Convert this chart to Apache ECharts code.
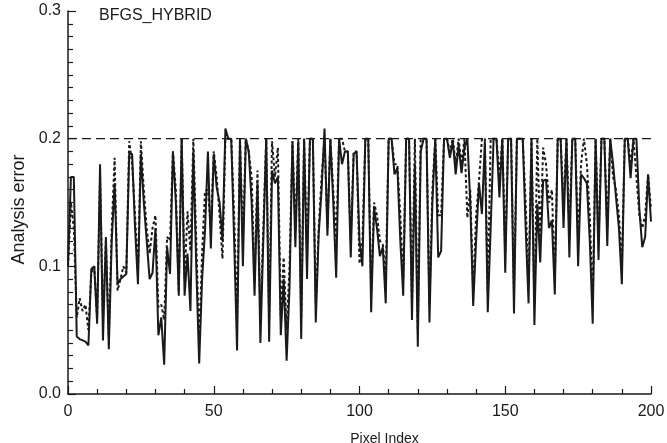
<!DOCTYPE html>
<html>
<head>
<meta charset="utf-8">
<script src="https://cdn.jsdelivr.net/npm/echarts@6/dist/echarts.min.js"></script>
<style>
  html, body { margin: 0; padding: 0; background: #fff; }
  #chart { width: 667px; height: 443px; }
</style>
</head>
<body>
<div id="chart"></div>
<script>
// analysis error per pixel, solid curve
const solidErr = [
  0.10, 0.17, 0.17, 0.045, 0.043, 0.042, 0.041, 0.038, 0.098, 0.10,
  0.055, 0.18, 0.042, 0.123, 0.035, 0.12, 0.165, 0.086, 0.09, 0.092,
  0.094, 0.188, 0.188, 0.13, 0.086, 0.188, 0.15, 0.12, 0.09, 0.095,
  0.13, 0.046, 0.06, 0.023, 0.115, 0.094, 0.19, 0.15, 0.077, 0.2,
  0.077, 0.11, 0.065, 0.19, 0.1, 0.024, 0.09, 0.128, 0.19, 0.114,
  0.188, 0.162, 0.15, 0.12, 0.208, 0.2, 0.2, 0.12, 0.034, 0.2,
  0.1, 0.2, 0.19, 0.15, 0.077, 0.165, 0.04, 0.12, 0.2, 0.041,
  0.175, 0.165, 0.17, 0.046, 0.09, 0.026, 0.084, 0.198, 0.115, 0.198,
  0.043, 0.2, 0.09, 0.2, 0.2, 0.056, 0.125, 0.16, 0.208, 0.124,
  0.2, 0.15, 0.091, 0.2, 0.18, 0.19, 0.19, 0.107, 0.188, 0.19,
  0.12, 0.1, 0.2, 0.2, 0.064, 0.146, 0.13, 0.108, 0.115, 0.071,
  0.2, 0.2, 0.172, 0.177, 0.12, 0.077, 0.2, 0.2, 0.058, 0.18,
  0.037, 0.19, 0.2, 0.2, 0.056, 0.15, 0.2, 0.107, 0.112, 0.2,
  0.2, 0.185, 0.198, 0.172, 0.195, 0.173, 0.193, 0.2, 0.15, 0.069,
  0.12, 0.165, 0.141, 0.198, 0.064, 0.13, 0.2, 0.2, 0.154, 0.2,
  0.095, 0.2, 0.2, 0.063, 0.2, 0.2, 0.2, 0.13, 0.071, 0.2,
  0.054, 0.149, 0.103, 0.167, 0.168, 0.13, 0.136, 0.078, 0.2, 0.2,
  0.13, 0.2, 0.107, 0.2, 0.2, 0.1, 0.172, 0.169, 0.165, 0.12,
  0.055, 0.2, 0.105, 0.2, 0.2, 0.116, 0.2, 0.18, 0.154, 0.13,
  0.086, 0.2, 0.2, 0.169, 0.2, 0.2, 0.145, 0.115, 0.123, 0.172,
  0.135
]

// dotted curve
const dottedErr = [
  0.10, 0.15, 0.13, 0.06, 0.075, 0.065, 0.07, 0.05, 0.095, 0.1,
  0.06, 0.17, 0.06, 0.12, 0.045, 0.13, 0.185, 0.081, 0.09, 0.1,
  0.095, 0.198, 0.18, 0.14, 0.095, 0.198, 0.16, 0.13, 0.11, 0.13,
  0.14, 0.068, 0.07, 0.058, 0.123, 0.12, 0.19, 0.16, 0.08, 0.2,
  0.09, 0.143, 0.112, 0.2, 0.12, 0.04, 0.11, 0.159, 0.16, 0.13,
  0.19, 0.17, 0.14, 0.106, 0.2, 0.2, 0.2, 0.14, 0.058, 0.2,
  0.12, 0.2, 0.19, 0.17, 0.09, 0.175, 0.06, 0.13, 0.2, 0.06,
  0.198, 0.17, 0.193, 0.06, 0.107, 0.05, 0.1, 0.198, 0.13, 0.2,
  0.06, 0.2, 0.11, 0.2, 0.2, 0.07, 0.13, 0.17, 0.2, 0.13,
  0.2, 0.16, 0.12, 0.2, 0.2, 0.19, 0.19, 0.12, 0.19, 0.19,
  0.102, 0.12, 0.2, 0.2, 0.08, 0.15, 0.14, 0.12, 0.117, 0.09,
  0.2, 0.2, 0.18, 0.18, 0.14, 0.09, 0.2, 0.2, 0.07, 0.2,
  0.05, 0.2, 0.2, 0.2, 0.07, 0.16, 0.2, 0.14, 0.14, 0.2,
  0.2, 0.19, 0.2, 0.18, 0.2, 0.18, 0.2, 0.138, 0.16, 0.08,
  0.14, 0.167, 0.2, 0.2, 0.08, 0.2, 0.2, 0.2, 0.17, 0.2,
  0.11, 0.2, 0.2, 0.08, 0.2, 0.2, 0.2, 0.15, 0.085, 0.2,
  0.07, 0.2, 0.12, 0.193, 0.18, 0.15, 0.16, 0.09, 0.2, 0.2,
  0.15, 0.2, 0.13, 0.2, 0.2, 0.12, 0.18, 0.2, 0.18, 0.14,
  0.07, 0.2, 0.12, 0.2, 0.2, 0.13, 0.2, 0.17, 0.16, 0.14,
  0.1, 0.2, 0.2, 0.18, 0.2, 0.17, 0.14, 0.13, 0.14, 0.172,
  0.145
]

// dashed reference level
const limitLevel = [[0, 0.2], [200, 0.2]]

const xTicks = [0, 50, 100, 150, 200]
const yTicks = [0, 0.1, 0.2, 0.3]

const ink = '#1a1a1a'
const font = 'Liberation Sans, Arial, sans-serif'

const toPairs = (vals) => vals.map((v, i) => [i, v])

const chart = echarts.init(document.getElementById('chart'), null, { renderer: 'canvas' })

chart.setOption({
  animation: false,
  backgroundColor: '#fff',
  title: {
    text: 'BFGS_HYBRID',
    left: 94,
    top: 3,
    textStyle: { color: ink, fontSize: 16, fontWeight: 'normal', fontFamily: font },
  },
  grid: { left: 68, right: 16, top: 11, bottom: 49, outerBoundsMode: 'none', containLabel: false },
  xAxis: {
    type: 'value',
    min: xTicks[0],
    max: xTicks[xTicks.length - 1],
    interval: xTicks[1] - xTicks[0],
    name: 'Pixel Index',
    nameLocation: 'middle',
    nameGap: 38,
    nameTextStyle: { color: ink, fontSize: 14, fontFamily: font, padding: [0, 0, 0, 50] },
    axisLine: { lineStyle: { color: ink, width: 1.5 } },
    axisTick: { inside: true, length: 8, lineStyle: { color: ink, width: 1.2 } },
    minorTick: { show: true, splitNumber: 5, length: 5, lineStyle: { color: ink, width: 1.2 } },
    axisLabel: { color: ink, fontSize: 16, fontFamily: font, margin: 10 },
    splitLine: { show: false },
  },
  yAxis: {
    type: 'value',
    min: yTicks[0],
    max: yTicks[yTicks.length - 1],
    interval: 0.1,
    name: 'Analysis error',
    nameLocation: 'middle',
    nameGap: 40,
    nameTextStyle: { color: ink, fontSize: 18, fontFamily: font, padding: [0, 14, 0, 0] },
    axisLine: { show: true, lineStyle: { color: ink, width: 1.5 } },
    axisTick: { show: true, inside: true, length: 8, lineStyle: { color: ink, width: 1.2 } },
    minorTick: { show: true, splitNumber: 10, length: 5, lineStyle: { color: ink, width: 1.2 } },
    axisLabel: { color: ink, fontSize: 16, fontFamily: font, margin: 7, formatter: (v) => v.toFixed(1) },
    splitLine: { show: false },
  },
  series: [
    {
      name: 'limit',
      type: 'line',
      data: limitLevel,
      symbol: 'none',
      silent: true,
      lineStyle: { color: ink, width: 1.4, type: [9, 5] },
      z: 1,
    },
    {
      name: 'dotted',
      type: 'line',
      data: toPairs(dottedErr),
      symbol: 'none',
      lineStyle: { color: ink, width: 2, type: [3, 2.5] },
      z: 2,
    },
    {
      name: 'solid',
      type: 'line',
      data: toPairs(solidErr),
      symbol: 'none',
      lineStyle: { color: ink, width: 2 },
      z: 3,
    },
  ],
})
</script>
</body>
</html>
